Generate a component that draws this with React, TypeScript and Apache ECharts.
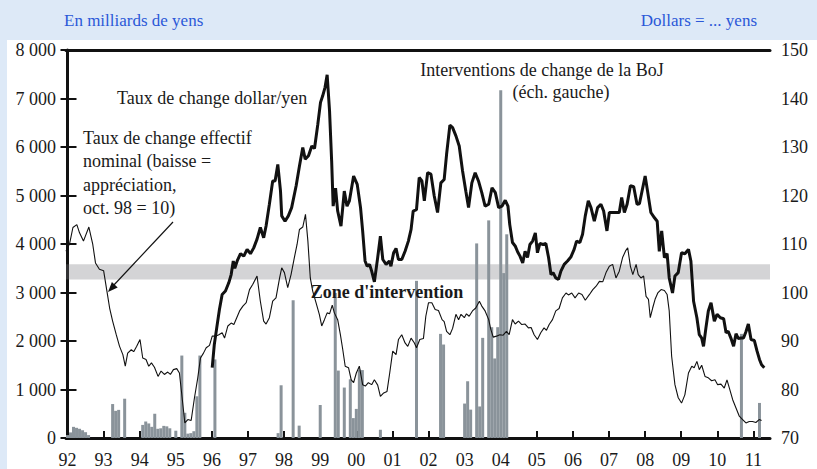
import React, { useEffect, useRef } from "react";
import * as echarts from "echarts";

// x = months since Jan 1992 (0 = Jan 92)
const yearLabels = ["92","93","94","95","96","97","98","99","00","01","02","03","04","05","06","07","08","09","10","11"];
const yearTicks = yearLabels.map((_, k) => k * 12);

const leftTicks = [0, 1000, 2000, 3000, 4000, 5000, 6000, 7000, 8000];
const rightTicks = [70, 80, 90, 100, 110, 120, 130, 140, 150];

// BoJ interventions (billions of yen), [month, amount]
const interventions: [number, number][] = [
  [0,60],[1,115],[2,230],[3,210],[4,190],[5,160],[6,120],[7,60],
  [15,700],[16,560],[17,580],[19,810],
  [25,270],[26,340],[27,300],[28,230],[29,500],[30,190],[31,200],[32,250],[33,240],[34,200],
  [36,150],[38,1700],[39,520],[40,90],[41,100],[42,140],[43,860],[44,1700],
  [49,1620],
  [70,100],[71,1087],[75,2840],[77,255],
  [84,680],[89,2990],[90,1390],[92,1040],[94,1210],[95,410],[96,600],[97,1410],[98,1400],
  [104,170],[116,3240],[124,2147],[125,1927],
  [132,710],[133,1170],[134,585],[136,4012],[137,650],[138,2065],[140,4487],[141,2285],[142,1640],[143,2285],[144,7171],[145,3400],[146,4200],
  [224,2147],[230,723]
];

// Taux de change dollar/yen, [month, yen]
const usdJpy: [number, number][] = [
  [48.1,84.5],[48.8,89.3],[49.6,92.7],[50.5,96.5],[51.4,99.6],[52.5,100.3],[53.6,102],[54.4,103.7],[55.1,106.5],[55.6,105],[56.4,106.5],[57.5,108],[58.6,107.5],[59.7,108.9],[60.8,108],[61.9,109.2],[63,111],[64.1,113.4],[65.2,111.3],[66,113.7],[67.1,118.2],[68.2,123],[69,123],[69.9,126.4],[70.8,120.9],[71.2,115.8],[72.3,114.7],[73.4,115.8],[74.5,117.5],[76,122],[77.1,126.1],[78.2,129.9],[79,127.5],[80.1,128.2],[81.2,130.2],[82.1,129.7],[83.2,134.7],[84.1,139.2],[84.8,140.5],[85.6,142.3],[86.3,144.9],[87.1,137.4],[87.8,127.1],[88.3,117.8],[89.1,121.5],[89.8,116.8],[90.9,113.7],[92,120.9],[92.9,117.8],[93.7,118.9],[95.1,124],[96.3,122.3],[97.4,117.5],[98.1,112.7],[98.9,106.5],[99.6,105.4],[100.4,105.8],[101.1,104.4],[102,102.2],[103.1,107.2],[104,111.6],[104.8,106.8],[105.9,105.8],[107,106.5],[107.5,105.4],[108.4,108.2],[109.2,109.1],[110,106.8],[111.1,106.8],[112.2,108.5],[113.3,110.6],[114.2,113],[114.9,116.8],[116,117.1],[116.9,123.7],[117.8,123],[118.6,118.9],[119.7,124.7],[120.8,124.4],[121.9,119.9],[123,116.5],[124.1,122.6],[125.2,123.3],[126,128.5],[127.1,134.5],[128,134],[129.1,132.3],[130.2,130.2],[131.3,125.1],[132.4,120.9],[133.3,117.5],[134.4,122.6],[135.5,124.7],[136.6,123],[137.7,120.6],[138.8,117.8],[140,118.2],[141.1,121.6],[142.2,120.6],[143.3,117.5],[144.4,117.8],[145.5,119],[146.4,117.8],[147,114],[147.9,110.3],[148.8,109.6],[149.6,108.4],[150.4,107.5],[151.3,106.1],[152.1,108.5],[152.9,107.2],[153.7,109.9],[154.6,110.6],[155.5,112.3],[156.2,108.2],[157,110.1],[158.1,109.9],[159,110.1],[159.9,107.2],[160.7,103.7],[161.4,104.1],[162.3,103],[163.2,102.7],[164,104.4],[165.1,105.8],[166.2,106.5],[167.3,107.3],[168.4,108.9],[169.2,110.6],[170.3,110.3],[171.2,112],[172.1,115.8],[173.1,118.9],[174,117.5],[175.1,114.7],[176.2,117.5],[177.3,118.2],[178.2,116.8],[179.3,112.7],[180.1,116.5],[181.2,116.5],[182.3,116.5],[183.4,116.5],[184.2,119.6],[185.1,116.5],[186,118.2],[187.1,122],[188.2,121.8],[189.3,118.2],[190.1,118.3],[191.2,121.6],[192,124],[192.8,120.9],[193.9,116.5],[195.1,115.4],[196,114.7],[196.7,108.5],[197.5,112.7],[198.4,107.2],[199.3,108],[200,103],[201.1,99.9],[201.9,103.4],[203,104.1],[204.1,108.2],[205.2,108],[206.4,108.9],[207.2,106.5],[208.1,98.2],[209.2,94.8],[210,91.3],[210.8,90.6],[211.4,88.9],[212.2,92.7],[213,96.2],[213.9,97.9],[215,94.1],[215.9,95.5],[217,94.8],[218.1,94.6],[218.9,91.7],[219.6,92],[220.5,90.6],[221.4,88.9],[222.2,91.5],[223,90.5],[223.8,90.6],[224.7,90.6],[225.5,91.9],[226.3,93.5],[227.2,90.3],[228.3,90.1],[229.2,87.9],[230,86.2],[230.7,85.1],[231.6,84.5]
];

// Taux de change effectif nominal, [month, index on right scale]
const neer: [number, number][] = [
  [-0.5,108.5],[0.7,110.1],[1.8,113.4],[3.1,114],[4,112.3],[5.3,110.6],[7.1,113.5],[8.4,109.9],[9.3,106.1],[10.6,104.8],[12,104.5],[13.1,100.3],[14,96.8],[15,94.1],[16.2,91.3],[17.3,88.9],[18.4,87.2],[19.2,84.8],[20,87.5],[21.2,88.2],[22,87.8],[23,88.9],[24.1,90.3],[25,86.5],[26.1,86.2],[27,84.8],[27.9,85.5],[28.9,84.6],[30.1,82.7],[31.1,83.8],[32.2,83.1],[33.3,83.6],[34.2,83.1],[35.2,84.1],[36.3,84.3],[37.2,83.4],[38.1,78.3],[39,73.1],[40,73.8],[41.1,73.6],[42.2,78.3],[43.3,82.4],[44.2,86.5],[45.2,87.5],[46.1,88.6],[47.2,89.1],[48.1,91],[49.2,91],[50.3,91.3],[51.4,91.7],[52.2,90.6],[53.3,93.1],[54.4,93.7],[55.3,93.4],[57.2,96.2],[58.3,97.2],[59.4,97.9],[60.5,100.6],[61.6,101.7],[63,103.4],[64.1,98.2],[65.2,94.1],[66,93.5],[67.1,94.8],[68.2,98.2],[69.3,98.9],[70.5,103],[71.2,105.1],[72.1,104.1],[73.2,101],[74.3,103.7],[75.4,107.2],[76.3,109.9],[77.1,113],[78.2,113.5],[79.1,116.1],[79.9,110.6],[80.7,103],[81.5,100.3],[82.6,97.9],[83.7,95.5],[84.5,93.1],[85.4,94.4],[86.3,95.8],[87.1,95.6],[88,97.4],[88.7,95.8],[89.8,94.4],[90.7,91.3],[91.5,88.2],[92.3,84.8],[93.4,84.5],[94.3,82],[95.1,81.4],[96,83.4],[97,84.8],[98.1,81],[99,80.7],[100,81.4],[101.1,81],[102,82],[103.1,80.9],[104,78.6],[105.1,79.3],[106.2,79.6],[107.1,83.4],[108.1,87.9],[109.2,87.2],[110,90.3],[111.1,91.3],[112.2,89.6],[113.1,88.9],[114.2,90.6],[115.3,89.6],[116,88.6],[117.1,90.3],[118.3,90.5],[119.1,95.1],[120,97.9],[121.1,97.9],[122.2,96.5],[123.3,96.3],[124.5,94.4],[125.2,94],[126,92],[127.1,91.3],[128,92.6],[129.1,95.5],[130,94.4],[130.8,95.5],[131.9,94.8],[132.6,95.6],[133.5,95.1],[134.6,96.2],[135.7,96.8],[136.9,98.2],[137.7,97.2],[138.8,96.2],[140,94.4],[140.7,92.4],[141.5,90.8],[142.6,91],[143.7,91.3],[144.8,91.2],[145.9,92],[146.8,91.3],[147.9,94.4],[148.8,93.5],[149.9,94.1],[151,93.4],[152.1,93.5],[153.2,92.7],[154.1,92.8],[155.1,91.3],[156.2,90.3],[157.3,91.7],[158.4,92.7],[159.2,92.2],[160.1,93.4],[161.2,94.4],[162.3,96.2],[163.4,96.7],[164.5,98.9],[165.7,99.9],[166.5,99.5],[167.6,99.9],[168.7,98.9],[169.9,99.9],[171,99.6],[172.1,98.4],[173.5,99.6],[174.6,100.6],[175.7,101.3],[176.8,102.3],[177.9,102.2],[179,104.1],[180.1,105.4],[181.2,105.8],[182.3,103],[183.4,104.4],[184.5,107.2],[185.6,108.7],[186.2,109.2],[187.1,105.4],[187.9,103.7],[189,105.8],[189.7,103.7],[190.6,103],[191.5,103.4],[192.3,99.2],[193.1,98.6],[193.7,94.8],[194.5,96.8],[195.3,98.6],[196.2,99.9],[197.3,100.6],[198.4,100.4],[199.3,99.6],[200,96.2],[200.8,86.9],[201.9,81],[203,78.3],[204.1,77.2],[205.2,78.9],[206.4,83.4],[207.5,84.8],[208.3,84.5],[209.2,85.8],[210,84.1],[210.8,85],[211.9,82.7],[213,82.4],[214.1,81.8],[215.2,82],[216.1,81],[217.2,81.1],[218.3,80.3],[219.2,82],[220,80.3],[221.1,77.9],[222.2,76.2],[223.3,74.5],[224.4,73.8],[225.5,73.1],[226.6,73.4],[227.7,73.4],[228.8,73.2],[229.9,73.8],[230.7,73.6]
];

// Zone d'intervention (yen)
const zoneLow = 102.7;
const zoneHigh = 105.8;

const FONT = "'Liberation Serif', 'Times New Roman', serif";

export default function App() {
  const ref = useRef<HTMLDivElement>(null);
  useEffect(() => {
    document.body.style.margin = "0";
    if (!ref.current) return;
    const chart = echarts.init(ref.current, undefined, { renderer: "svg" });
    const txt = (text: string, x: number, y: number, extra: any = {}) => ({
      type: "text",
      z: 100,
      style: {
        text, x, y,
        font: `18px ${FONT}`,
        fill: "#1a1a1a",
        textAlign: "left",
        textVerticalAlign: "middle",
        ...extra,
      },
    });
    chart.setOption({
      animation: false,
      backgroundColor: "#dde9f7",
      textStyle: { fontFamily: FONT },
      grid: { left: 66, right: 47, top: 50, bottom: 31, show: true, backgroundColor: "#ffffff", borderWidth: 0 },
      xAxis: [
        {
          type: "value",
          min: -0.5,
          max: 233.5,
          position: "bottom",
          axisLine: { show: true, onZero: false, lineStyle: { color: "#111", width: 3 } },
          axisTick: { show: true, inside: true, length: 7, customValues: yearTicks, lineStyle: { color: "#111", width: 2 } },
          axisLabel: {
            show: true,
            customValues: yearTicks,
            formatter: (v: number) => yearLabels[Math.round(v / 12)] ?? "",
            color: "#1a1a1a",
            fontSize: 18,
            fontFamily: FONT,
            margin: 13,
          },
          splitLine: { show: false },
        },
        {
          type: "value",
          min: -0.5,
          max: 233.5,
          position: "top",
          axisLine: { show: true, onZero: false, lineStyle: { color: "#111", width: 3 } },
          axisTick: { show: false },
          axisLabel: { show: false },
          splitLine: { show: false },
        },
      ],
      yAxis: [
        {
          type: "value",
          min: leftTicks[0],
          max: leftTicks[leftTicks.length - 1],
          interval: 1000,
          position: "left",
          axisLine: { show: true, lineStyle: { color: "#111", width: 2 } },
          axisTick: { show: true, inside: true, length: 9, lineStyle: { color: "#111", width: 2 } },
          axisLabel: {
            formatter: (v: number) => (v === 0 ? "0" : `${v / 1000} 000`),
            color: "#1a1a1a",
            fontSize: 18,
            fontFamily: FONT,
            margin: 10,
          },
          splitLine: { show: false },
        },
        {
          type: "value",
          min: rightTicks[0],
          max: rightTicks[rightTicks.length - 1],
          interval: 10,
          position: "right",
          axisLine: { show: true, lineStyle: { color: "#111", width: 3 } },
          axisTick: { show: true, inside: true, length: 7, lineStyle: { color: "#111", width: 2 } },
          axisLabel: { color: "#1a1a1a", fontSize: 18, fontFamily: FONT, margin: 11 },
          splitLine: { show: false },
        },
      ],
      series: [
        {
          name: "Interventions",
          type: "bar",
          xAxisIndex: 0,
          yAxisIndex: 0,
          data: interventions,
          barWidth: 3,
          itemStyle: { color: "#8a939a" },
          z: 2,
        },
        {
          name: "Zone",
          type: "line",
          xAxisIndex: 0,
          yAxisIndex: 1,
          data: [],
          z: 3,
          markArea: {
            silent: true,
            itemStyle: { color: "rgba(120,122,126,0.32)" },
            data: [[{ yAxis: zoneLow }, { yAxis: zoneHigh }]],
          },
        },
        {
          name: "Effectif",
          type: "line",
          xAxisIndex: 0,
          yAxisIndex: 1,
          data: neer,
          showSymbol: false,
          lineStyle: { color: "#111", width: 1.1 },
          z: 4,
        },
        {
          name: "Dollar/yen",
          type: "line",
          xAxisIndex: 0,
          yAxisIndex: 1,
          data: usdJpy,
          showSymbol: false,
          lineStyle: { color: "#111", width: 3 },
          z: 5,
        },
      ],
      graphic: [
        {
          type: "rect",
          z: -10,
          silent: true,
          shape: { x: 7, y: 40, width: 810, height: 429 },
          style: { fill: "#ffffff" },
        },
        txt("En milliards de yens", 64, 20, { font: `17px ${FONT}`, fill: "#2b58d8" }),
        txt("Dollars = ... yens", 757, 20, { font: `17px ${FONT}`, fill: "#2b58d8", textAlign: "right" }),
        txt("Taux de change dollar/yen", 117, 98),
        txt("Interventions de change de la BoJ", 542, 70, { textAlign: "center" }),
        txt("(éch. gauche)", 561, 92, { textAlign: "center" }),
        txt("Taux de change effectif", 83, 138),
        txt("nominal (baisse =", 83, 161),
        txt("appréciation,", 83, 185),
        txt("oct. 98 = 10)", 83, 208),
        txt("Zone d'intervention", 387, 292, { font: `bold 18px ${FONT}`, textAlign: "center" }),
        {
          type: "line",
          z: 100,
          shape: { x1: 173, y1: 222, x2: 113, y2: 286 },
          style: { stroke: "#111", lineWidth: 1.2 },
        },
        {
          type: "polygon",
          z: 100,
          shape: { points: [[108, 292], [117.7, 287.4], [111.9, 282.0]] },
          style: { fill: "#111" },
        },
      ],
    });
    return () => chart.dispose();
  }, []);
  return <div ref={ref} style={{ width: 817, height: 469 }} />;
}
